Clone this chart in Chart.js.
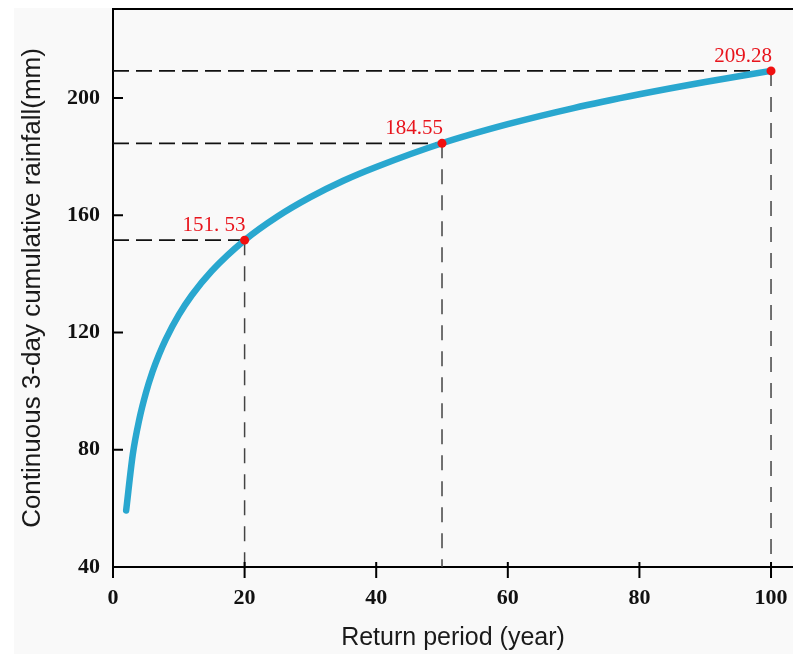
<!DOCTYPE html>
<html>
<head>
<meta charset="utf-8">
<script src="https://cdn.jsdelivr.net/npm/chart.js@4/dist/chart.umd.min.js"></script>
<style>
  html, body { margin: 0; padding: 0; background: #fff; }
  canvas { display: block; }
</style>
</head>
<body>
<canvas id="myChart" width="793" height="654"></canvas>
<script>
// values
const returnPeriod = [2, 3, 4, 5, 6, 7, 8, 10, 12, 15, 20, 25, 30, 35, 40, 50, 60, 70, 80, 90, 100];
const rainfall = [59.3, 78.3, 90.4, 99.4, 106.6, 112.5, 117.6, 126.0, 132.8, 141.0, 151.5, 159.6, 166.2, 171.8, 176.5, 184.6, 191.1, 196.6, 201.3, 205.5, 209.3];

const keyPeriod = [20, 50, 100];
const keyRainfall = [151.53, 184.55, 209.28];
const keyLabels = ['151. 53', '184.55', '209.28'];

const xTicks = [0, 20, 40, 60, 80, 100];
const yTicks = [40, 80, 120, 160, 200];

const xMin = 0, xMax = 103.34;
const yMin = 40, yMax = 230.4;

// dashed guide segments, built from the key points (y: null breaks the line)
const hGuides = [];
const vGuides = [];
keyPeriod.forEach(function (p, i) {
    hGuides.push({x: xMin, y: keyRainfall[i]}, {x: p, y: keyRainfall[i]}, {x: p, y: null});
    vGuides.push({x: p, y: keyRainfall[i]}, {x: p, y: yMin}, {x: p, y: null});
});

const bgPlugin = {
    id: 'bg',
    beforeDraw(chart) {
        const c = chart.ctx;
        c.save();
        c.fillStyle = '#ffffff';
        c.fillRect(0, 0, chart.width, chart.height);
        c.fillStyle = '#f9f9f9';
        c.fillRect(14, 8, chart.width - 14, chart.height - 8);
        c.restore();
    }
};

const frame = {
    id: 'frame',
    afterDraw(chart) {
        const c = chart.ctx;
        const a = chart.chartArea;
        const xs = chart.scales.x, ys = chart.scales.y;
        c.save();
        c.strokeStyle = '#000';
        c.lineWidth = 2;
        c.beginPath();
        c.moveTo(a.left - 1, a.top);
        c.lineTo(a.right, a.top);
        // y ticks point inward
        yTicks.forEach(function (v) {
            const py = ys.getPixelForValue(v);
            c.moveTo(a.left, py);
            c.lineTo(a.left + 10, py);
        });
        // x ticks cross the axis
        xTicks.forEach(function (v) {
            const px = xs.getPixelForValue(v);
            c.moveTo(px, a.bottom - 5);
            c.lineTo(px, a.bottom + 11);
        });
        c.stroke();

        // value labels
        const meta = chart.getDatasetMeta(1);
        c.fillStyle = '#e8141c';
        c.font = '21px "Liberation Serif", "Times New Roman", serif';
        c.textAlign = 'right';
        c.textBaseline = 'alphabetic';
        meta.data.forEach(function (pt, i) {
            c.fillText(keyLabels[i], pt.x + 1, pt.y - 9);
        });
        c.restore();
    }
};

function noPad(s) {
    s.paddingTop = 0;
    s.paddingBottom = 0;
    s.paddingLeft = 0;
    s.paddingRight = 0;
}

const ctx = document.getElementById('myChart');

new Chart(ctx, {
    type: 'line',
    data: {
        datasets: [
            {
                label: 'curve',
                data: returnPeriod.map(function (t, i) { return {x: t, y: rainfall[i]}; }),
                borderColor: '#29a7cf',
                borderWidth: 6.5,
                borderCapStyle: 'round',
                pointRadius: 0,
                cubicInterpolationMode: 'monotone',
                order: 1
            },
            {
                label: 'points',
                data: keyPeriod.map(function (t, i) { return {x: t, y: keyRainfall[i]}; }),
                showLine: false,
                pointRadius: 4.5,
                pointBackgroundColor: '#f01010',
                pointBorderWidth: 0,
                order: 0
            },
            {
                label: 'h',
                data: hGuides,
                borderColor: '#111',
                borderWidth: 1.8,
                borderDash: [16, 7],
                pointRadius: 0,
                spanGaps: false,
                order: 2
            },
            {
                label: 'v',
                data: vGuides,
                borderColor: '#444',
                borderWidth: 1.5,
                borderDash: [15, 11],
                pointRadius: 0,
                spanGaps: false,
                order: 2
            }
        ]
    },
    options: {
        responsive: false,
        animation: false,
        devicePixelRatio: 1,
        layout: { autoPadding: false, padding: { top: 9, right: 0, left: 0, bottom: 0 } },
        plugins: {
            legend: { display: false },
            tooltip: { enabled: false }
        },
        scales: {
            x: {
                type: 'linear',
                min: xMin,
                max: xMax,
                afterFit: function (s) { s.height = 87; noPad(s); },
                grid: { display: false, drawTicks: false },
                border: { display: true, color: '#000', width: 2 },
                ticks: {
                    stepSize: 20,
                    includeBounds: false,
                    padding: 18,
                    color: '#111',
                    font: { family: '"Liberation Serif", "Times New Roman", serif', size: 22, weight: 'bold' }
                },
                title: {
                    display: true,
                    text: 'Return period (year)',
                    color: '#1a1a1a',
                    padding: { top: 0, bottom: 1 },
                    font: { family: '"Liberation Sans", Arial, sans-serif', size: 25 }
                }
            },
            y: {
                min: yMin,
                max: yMax,
                afterFit: function (s) { s.width = 113; noPad(s); },
                grid: { display: false, drawTicks: false },
                border: { display: true, color: '#000', width: 2 },
                ticks: {
                    stepSize: 40,
                    includeBounds: false,
                    padding: 13,
                    color: '#111',
                    font: { family: '"Liberation Serif", "Times New Roman", serif', size: 22, weight: 'bold' }
                },
                title: {
                    display: true,
                    text: 'Continuous 3-day cumulative rainfall(mm)',
                    color: '#1a1a1a',
                    padding: { top: 17, bottom: 0 },
                    font: { family: '"Liberation Sans", Arial, sans-serif', size: 26 }
                }
            }
        }
    },
    plugins: [bgPlugin, frame]
});
</script>
</body>
</html>
